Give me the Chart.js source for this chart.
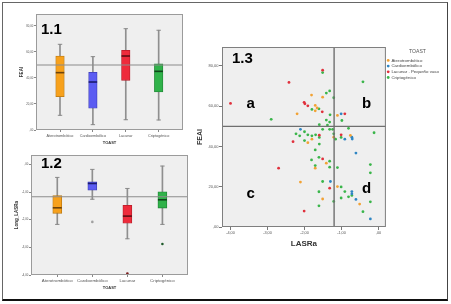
<!DOCTYPE html>
<html>
<head>
<meta charset="utf-8">
<script src="https://cdn.jsdelivr.net/npm/chart.js@4.4.0/dist/chart.umd.min.js"></script>
<style>
  body { margin: 0; background: #fff; }
  #wrap { position: relative; width: 451px; height: 304px; overflow: hidden; background: #fff; }
  #frame { position: absolute; left: 2px; top: 2px; width: 446px; height: 299px; box-sizing: border-box;
           border-top: 1px solid #666; border-left: 1px solid #666; border-right: 1px solid #444; border-bottom: 2px solid #111; }
  canvas { position: absolute; }
  .tag { position: absolute; font: bold 15px "Liberation Sans", Arial, sans-serif; line-height: 15px; color: #000; }
</style>
</head>
<body>
<div id="wrap">
  <div id="frame"></div>
  <canvas id="c1" width="195" height="150" style="left:0;top:0"></canvas>
  <canvas id="c2" width="195" height="152" style="left:0;top:146px"></canvas>
  <canvas id="c3" width="259" height="230" style="left:190px;top:30px"></canvas>
  <div class="tag" style="left:41px;top:20.5px">1.1</div>
  <div class="tag" style="left:41px;top:155px">1.2</div>
  <div class="tag" style="left:232px;top:50px">1.3</div>
  <div class="tag" style="left:246.5px;top:94.6px">a</div>
  <div class="tag" style="left:362px;top:94.6px">b</div>
  <div class="tag" style="left:246.5px;top:185px">c</div>
  <div class="tag" style="left:362px;top:180px">d</div>
</div>
<script>
// categorias TOAST
var TOAST = ['Aterotrombótico', 'Cardioembólico', 'Lacunar', 'Criptogénico'];
var BOX_FILL = ['#f7a11c', '#5b5cf2', '#ee2b3b', '#30b24a'];
var BOX_EDGE = ['#b9770f', '#3c3db5', '#b51d29', '#1f8534'];
var BOX_MED = ['#6e430a', '#1a1a6e', '#5e0d13', '#0e4519'];

// 1.1 FEAI por subtipo
var feaiMin = [11.3, 4.1, 7.9, 7.7];
var feaiQ1 = [25.6, 16.7, 38.2, 29.2];
var feaiMed = [44.1, 36.9, 56.9, 45.1];
var feaiQ3 = [56.9, 44.4, 61.3, 50.8];
var feaiMax = [65.9, 56.4, 77.9, 76.7];
var FEAI_REF = 50;

// 1.2 Long_LASRa por subtipo
var lasrMin = [-2.17, -1.26, -2.69, -2.17];
var lasrQ1 = [-1.77, -0.93, -2.13, -1.58];
var lasrMed = [-1.57, -0.69, -1.87, -1.28];
var lasrQ3 = [-1.13, -0.63, -1.48, -0.99];
var lasrMax = [-0.47, -0.18, -0.87, -0.06];
var lasrOutCat = [2, 3, 4];
var lasrOutVal = [-2.08, -3.95, -2.88];
var lasrOutColor = ['#a0a0a0', '#7a1a1a', '#1e5a2a'];
var LASR_REF = -1.17;

// 1.3 LASRa vs FEAI
var SCAT_NAMES = ['Aterotrombótico', 'Cardioembólico', 'Lacunar . Pequeño vaso', 'Criptogénico'];
var SCAT_COLORS = ['#f2a234', '#2f86c3', '#e0303c', '#3ab54a'];
var ateroPts = [[-1.81, 65.5], [-1.51, 64.5], [-1.71, 60.4], [-1.66, 59.1], [-1.71, 57.7], [-2.2, 56.2],
  [-1.11, 55.4], [-0.76, 45.5], [-1.21, 44.6], [-1.8, 43.6], [-1.91, 41.9], [-1.41, 31.7], [-1.71, 29.2],
  [-2.11, 22.3], [-1.11, 20.1], [-1.51, 13.9], [-0.51, 11.4]];
var cardioPts = [[-1.01, 56.2], [-2.11, 48.5], [-0.72, 44.6], [-0.91, 43.6], [-0.71, 43.7], [-0.61, 36.7],
  [-1.3, 22.6], [-0.72, 17.6], [-0.72, 16.5], [-0.61, 13.7], [-0.22, 4.0]];
var lacunarPts = [[-4.0, 61.4], [-2.42, 71.8], [-1.51, 77.9], [-2.01, 61.9], [-1.99, 61.2], [-1.91, 60.2],
  [-1.52, 57.2], [-0.91, 56.2], [-1.6, 45.6], [-1.01, 45.8], [-2.31, 42.4], [-1.51, 33.8], [-2.7, 29.2],
  [-1.32, 19.3], [-2.01, 7.9]];
var criptoPts = [[-1.51, 76.7], [-0.42, 72.1], [-1.41, 66.5], [-1.32, 67.6], [-1.21, 64.2], [-1.8, 58.4],
  [-1.61, 58.7], [-1.31, 55.7], [-2.9, 53.5], [-1.41, 53.1], [-1.32, 52.1], [-0.99, 52.9], [-1.38, 50.6],
  [-1.6, 50.8], [-0.81, 49.0], [-2.0, 47.3], [-1.51, 48.5], [-1.32, 48.5], [-1.24, 48.5], [-0.12, 46.8],
  [-2.23, 46.3], [-2.13, 45.3], [-1.91, 45.8], [-1.8, 45.3], [-1.7, 45.8], [-1.6, 44.5], [-1.21, 46.3],
  [-1.01, 44.5], [-1.16, 43.6], [-2.0, 42.9], [-1.6, 41.2], [-1.71, 38.3], [-1.61, 34.6], [-1.81, 33.3],
  [-1.32, 32.7], [-1.71, 30.5], [-1.32, 29.7], [-1.11, 29.5], [-0.22, 31.0], [-0.22, 26.9], [-1.51, 22.6],
  [-1.01, 19.9], [-1.61, 17.5], [-0.91, 17.6], [-0.72, 15.7], [-0.81, 15.0], [-1.01, 14.4], [-1.21, 12.7],
  [-0.22, 12.5], [-1.61, 10.5], [-0.42, 7.6]];
var LASR_CUT = -1.2;
var FEAI_CUT = 50;

Chart.defaults.font.family = '"Liberation Sans", Arial, sans-serif';

// formato SPSS: ",00", "-1,00", "20,00"
function spss(v) {
  var s = Math.abs(v).toFixed(2).replace('.', ',');
  if (s.charAt(0) === '0') s = s.slice(1);
  return (v < 0 ? '-' : '') + s;
}

// fondo gris, marco y lineas de referencia
var plotFrame = {
  id: 'plotFrame',
  beforeDraw: function (chart) {
    var a = chart.chartArea, ctx = chart.ctx;
    ctx.save();
    ctx.fillStyle = '#efefef';
    ctx.fillRect(a.left, a.top, a.right - a.left, a.bottom - a.top);
    ctx.restore();
  },
  afterDatasetsDraw: function (chart, args, opts) {
    var a = chart.chartArea, ctx = chart.ctx;
    ctx.save();
    ctx.strokeStyle = opts.line || '#8c8c8c';
    ctx.lineWidth = opts.width || 1.2;
    ctx.beginPath();
    if (opts.refY != null) {
      var py = chart.scales.y.getPixelForValue(opts.refY);
      ctx.moveTo(a.left, py); ctx.lineTo(a.right, py);
    }
    if (opts.refX != null) {
      var px = chart.scales.x.getPixelForValue(opts.refX);
      ctx.moveTo(px, a.top); ctx.lineTo(px, a.bottom);
    }
    ctx.stroke();
    ctx.strokeStyle = opts.edge || '#9b9b9b';
    ctx.lineWidth = 1;
    ctx.strokeRect(a.left + 0.5, a.top + 0.5, a.right - a.left - 1, a.bottom - a.top - 1);
    ctx.restore();
  }
};
Chart.register(plotFrame);

function boxChart(id, s, out, y, lay) {
  var whisk = TOAST.map(function (c, i) { return { x: i + 1, y: [s.min[i], s.max[i]] }; });
  var boxes = TOAST.map(function (c, i) { return { x: i + 1, y: [s.q1[i], s.q3[i]] }; });
  var meds = TOAST.map(function (c, i) { return { x: i + 1, y: s.med[i] }; });
  var caps = [];
  TOAST.forEach(function (c, i) {
    caps.push({ x: i + 1, y: s.min[i] });
    caps.push({ x: i + 1, y: s.max[i] });
  });
  var outs = out.cat.map(function (c, i) { return { x: c, y: out.val[i] }; });

  return new Chart(document.getElementById(id), {
    type: 'bar',
    data: {
      datasets: [
        { type: 'line', data: meds, showLine: false, pointStyle: 'line', pointRadius: lay.box / 2,
          pointBorderWidth: 1.6, pointBorderColor: BOX_MED, order: 0 },
        { type: 'line', data: outs, showLine: false, pointStyle: 'circle', pointRadius: 1.3,
          pointBorderWidth: 0, pointBackgroundColor: out.color, order: 1 },
        { data: boxes, backgroundColor: BOX_FILL, borderColor: BOX_EDGE, borderWidth: 0.8,
          borderSkipped: false, barThickness: lay.box, grouped: false, order: 2 },
        { type: 'line', data: caps, showLine: false, pointStyle: 'line', pointRadius: 2.2,
          pointBorderWidth: 1, pointBorderColor: '#8a8a8a', order: 3 },
        { data: whisk, backgroundColor: '#8f8f8f', barThickness: 1, grouped: false, order: 4 }
      ]
    },
    options: {
      responsive: false,
      animation: false,
      events: [],
      layout: { padding: lay.pad },
      plugins: {
        legend: { display: false },
        tooltip: { enabled: false },
        plotFrame: { refY: y.ref, line: '#8c8c8c', width: 1.2, edge: '#9b9b9b' }
      },
      scales: {
        x: {
          type: 'linear', min: lay.xMin, max: lay.xMax, offset: false,
          afterBuildTicks: function (sc) { sc.ticks = TOAST.map(function (c, i) { return { value: i + 1 }; }); },
          afterFit: function (sc) { sc.height = lay.xh; },
          grid: { drawOnChartArea: false, offset: false, tickLength: 2, color: '#888' },
          border: { display: false },
          ticks: { autoSkip: false, maxRotation: 0, minRotation: 0, padding: 1.5, color: '#555',
                   font: { size: lay.xf }, callback: function (v) { return TOAST[v - 1]; } },
          title: { display: true, text: 'TOAST', color: '#333', font: { size: 4, weight: 'bold' },
                   padding: { top: 0, bottom: lay.tpb } }
        },
        y: {
          min: y.min, max: y.max,
          afterFit: function (sc) { sc.width = lay.yw; },
          grid: { drawOnChartArea: false, tickLength: 2, color: '#888' },
          border: { display: false },
          ticks: { stepSize: y.step, includeBounds: false, padding: 0.7, color: '#555',
                   font: { size: 2.8 }, callback: spss },
          title: { display: true, text: y.title, color: '#333', font: { size: 4.5, weight: 'bold' },
                   padding: { top: lay.ytp, bottom: 0 } }
        }
      }
    }
  });
}

boxChart('c1',
  { min: feaiMin, q1: feaiQ1, med: feaiMed, q3: feaiQ3, max: feaiMax },
  { cat: [], val: [], color: [] },
  { min: 0, max: 89.2, step: 20, ref: FEAI_REF, title: 'FEAI' },
  { pad: { top: 14, right: 12, bottom: 4, left: 0 }, yw: 36, xh: 16, xMin: 0.27, xMax: 4.74,
    box: 8.5, xf: 3.8, tpb: 1.1, ytp: 19 });

boxChart('c2',
  { min: lasrMin, q1: lasrQ1, med: lasrMed, q3: lasrQ3, max: lasrMax },
  { cat: lasrOutCat, val: lasrOutVal, color: lasrOutColor },
  { min: -4, max: 0.34, step: 1, ref: LASR_REF, title: 'Long_LASRa' },
  { pad: { top: 9, right: 7, bottom: 7, left: 0 }, yw: 31, xh: 16, xMin: 0.25, xMax: 4.73,
    box: 9, xf: 4.4, tpb: 0.9, ytp: 14 });

var groups = [ateroPts, cardioPts, lacunarPts, criptoPts];

new Chart(document.getElementById('c3'), {
  type: 'scatter',
  data: {
    datasets: groups.map(function (pts, g) {
      return {
        label: SCAT_NAMES[g],
        data: pts.map(function (p) { return { x: p[0], y: p[1] }; }),
        backgroundColor: SCAT_COLORS[g],
        borderColor: SCAT_COLORS[g],
        pointRadius: 1.4,
        borderWidth: 0
      };
    })
  },
  options: {
    responsive: false,
    animation: false,
    events: [],
    layout: { padding: { top: 17, right: 0, bottom: 10, left: 0 } },
    plugins: {
      tooltip: { enabled: false },
      legend: {
        position: 'right', align: 'start',
        labels: { usePointStyle: true, boxWidth: 2, boxHeight: 2, padding: 1.3, color: '#444', font: { size: 4.4 } },
        title: { display: true, text: 'TOAST', color: '#555', font: { size: 5.1 }, padding: { top: 2, bottom: 1.8 } }
      },
      plotFrame: { refX: LASR_CUT, refY: FEAI_CUT, line: '#6f6f6f', width: 1.4, edge: '#7f7f7f' }
    },
    scales: {
      x: {
        type: 'linear', min: -4.23, max: 0.2,
        afterFit: function (sc) { sc.height = 23; },
        grid: { drawOnChartArea: false, tickLength: 3, color: '#777' },
        border: { display: false },
        ticks: { stepSize: 1, includeBounds: false, padding: 1, color: '#555', font: { size: 3.8 }, callback: spss },
        title: { display: true, text: 'LASRa', color: '#333', font: { size: 8, weight: 'bold' }, padding: { top: 0, bottom: 1.2 } }
      },
      y: {
        min: 0, max: 89.4,
        afterFit: function (sc) { sc.width = 32; },
        grid: { drawOnChartArea: false, tickLength: 3, color: '#777' },
        border: { display: false },
        ticks: { stepSize: 20, includeBounds: false, padding: 0.5, color: '#555', font: { size: 4 }, callback: spss },
        title: { display: true, text: 'FEAI', color: '#333', font: { size: 7, weight: 'bold' }, padding: { top: 5.8, bottom: 0 } }
      }
    }
  }
});
</script>
</body>
</html>
